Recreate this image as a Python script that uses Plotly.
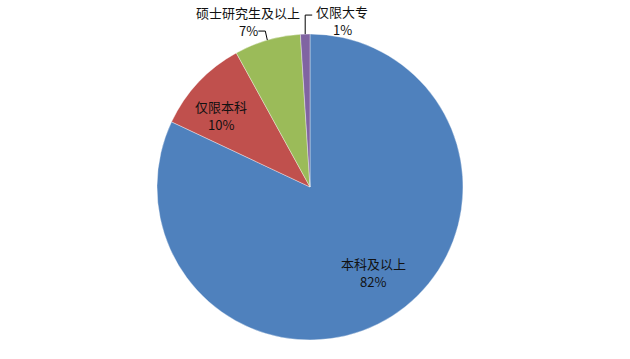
import math
import plotly.graph_objects as go

# Education requirement breakdown
labels = ["本科及以上", "仅限本科", "硕士研究生及以上", "仅限大专"]
values = [82, 10, 7, 1]
colors = ["#4F81BD", "#C0504D", "#9BBB59", "#8064A2"]

W, H = 630, 359
CX, CY, R = 310, 187, 153  # pie centre and radius in pixels

FONT = "Noto Sans CJK SC, Noto Sans, sans-serif"
LINE_GAP = 18  # pixel distance between the name line and the percent line

fig = go.Figure(
    go.Pie(
        labels=labels,
        values=values,
        sort=False,
        direction="clockwise",
        rotation=0,
        marker=dict(colors=colors, line=dict(color="rgba(255,255,255,0.6)", width=0.6)),
        textinfo="none",
        hoverinfo="label+percent",
        showlegend=False,
        domain=dict(x=[(CX - R) / W, (CX + R) / W],
                    y=[(H - CY - R) / H, (H - CY + R) / H]),
    )
)


def px_to_paper(x, y):
    return x / W, 1 - y / H


# Label placement per slice: inside labels sit at a fraction of the radius
# along the slice's mid angle; outside labels hang off an elbow leader line.
label_style = [
    dict(kind="inside", rfrac=0.70, nudge=(6, -5)),
    dict(kind="inside", rfrac=0.74, nudge=(-6, 6)),
    dict(kind="outside", elbow=(-2, -9), end=(-9, -9), text=(-19, -19)),
    dict(kind="outside", elbow=(0, -19), end=(7, -19), text=(37, -14)),
]

total = sum(values)
cum = 0
shapes, annotations = [], []
for i, v in enumerate(values):
    mid = (cum + v / 2) / total * 2 * math.pi
    cum += v
    st = label_style[i]
    if st["kind"] == "inside":
        r = R * st["rfrac"]
        lx = CX + r * math.sin(mid) + st["nudge"][0]
        ly = CY - r * math.cos(mid) + st["nudge"][1]
    else:
        ex = CX + R * math.sin(mid)
        ey = CY - R * math.cos(mid)
        p0 = px_to_paper(ex, ey)
        p1 = px_to_paper(ex + st["elbow"][0], ey + st["elbow"][1])
        p2 = px_to_paper(ex + st["end"][0], ey + st["end"][1])
        shapes.append(dict(
            type="path", xref="paper", yref="paper",
            path=f"M {p0[0]} {p0[1]} L {p1[0]} {p1[1]} L {p2[0]} {p2[1]}",
            line=dict(color="#000000", width=1),
        ))
        lx = ex + st["text"][0]
        ly = ey + st["text"][1]
    for txt, dy in ((labels[i], -LINE_GAP / 2), (f"{v}%", LINE_GAP / 2)):
        ax, ay = px_to_paper(lx, ly + dy)
        annotations.append(dict(
            x=ax, y=ay, xref="paper", yref="paper",
            text=txt, showarrow=False,
            xanchor="center", yanchor="middle",
            font=dict(family=FONT, size=13, color="#111111"),
        ))

fig.update_layout(
    width=W, height=H,
    margin=dict(l=0, r=0, t=0, b=0),
    paper_bgcolor="white",
    plot_bgcolor="white",
    shapes=shapes,
    annotations=annotations,
)

fig.write_html("out.html")
